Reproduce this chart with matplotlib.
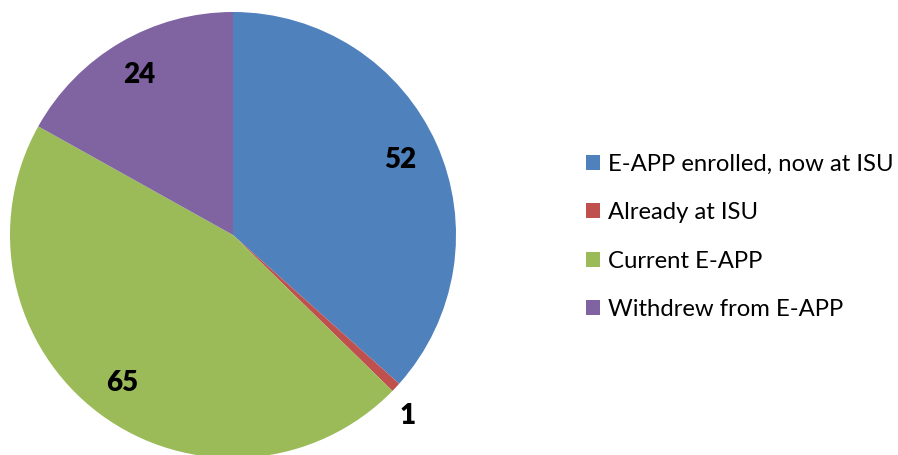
import numpy as np
import matplotlib
matplotlib.use("Agg")
import matplotlib.pyplot as plt
from matplotlib.patches import Patch

plt.rcParams['font.family'] = ['Lato', 'DejaVu Sans']

# Datos
categorias = ["E-APP enrolled, now at ISU", "Already at ISU", "Current E-APP", "Withdrew from E-APP"]
valores = [52, 1, 65, 24]
colores = ["#4F81BD", "#C0504D", "#9BBB59", "#8064A2"]

fig = plt.figure(figsize=(8.98, 4.55), dpi=100)
# pie centre ~ (233, 235) px, radius ~223 px
ax = fig.add_axes([10 / 898, (455 - 235 - 223) / 455, 446 / 898, 446 / 455])

wedges, _ = ax.pie(valores, colors=colores, startangle=90, counterclock=False,
                   radius=1, wedgeprops=dict(linewidth=0))
ax.set_xlim(-1, 1)
ax.set_ylim(-1, 1)
ax.set_aspect('equal')
ax.axis('off')
for w in wedges:
    w.set_clip_on(False)

# etiquetas de valor
dist = [0.82, 1.13, 0.83, 0.83]
for w, v, d in zip(wedges, valores, dist):
    ang = np.deg2rad((w.theta1 + w.theta2) / 2)
    if v == 1:
        ang = np.deg2rad(-46)
    ax.text(d * np.cos(ang), d * np.sin(ang), str(v), ha='center', va='center',
            fontsize=20, fontweight='heavy')

handles = [Patch(facecolor=c, edgecolor='none') for c in colores]
fig.legend(handles, categorias, loc='center left', bbox_to_anchor=(576 / 898, 1 - 237 / 455),
           frameon=False, fontsize=17.2, handlelength=0.6, handleheight=0.6,
           handletextpad=0.35, labelspacing=1.15, borderaxespad=0)

fig.savefig("out.png", dpi=100)
